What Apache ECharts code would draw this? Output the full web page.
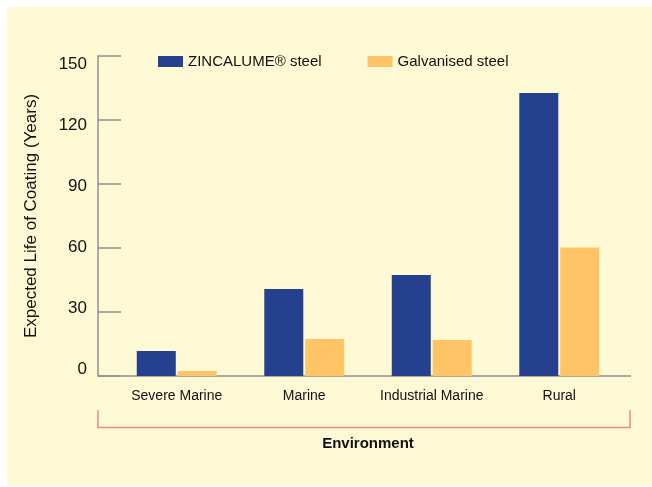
<!DOCTYPE html>
<html lang="en">
<head>
  <meta charset="UTF-8">
  <title>Expected Life of Coating</title>
  <style>
    * { box-sizing: border-box; padding: 0; margin: 0; }
    html, body, #main { width: 100%; height: 100%; background: #fff; }
  </style>
  <script src="https://cdn.jsdelivr.net/npm/echarts@6/dist/echarts.min.js"></script>
</head>
<body>
  <div id="main"></div>
  <script>
    // data
    var categories = ['Severe Marine', 'Marine', 'Industrial Marine', 'Rural'];
    var zincalume = [11.7, 40.8, 47.3, 132.7];
    var galvanised = [2.3, 17.3, 16.9, 60.2];
    var seriesNames = ['ZINCALUME® steel', 'Galvanised steel'];

    var font = '"Liberation Sans", Arial, sans-serif';
    var grey = '#8f8f8f';

    // in the source the tick labels sit a bit off their ticks:
    // top one hangs below, bottom one sits above the axis
    var labelRich = {};
    [0, 30, 60, 90, 120, 150].forEach(function (v) {
      var d = -7 + v * 0.1;
      labelRich['v' + v] = {
        fontFamily: font, fontSize: 17, color: '#111',
        padding: d >= 0 ? [2 * d, 0, 0, 0] : [0, 0, -2 * d, 0]
      };
    });

    var myChart = echarts.init(document.getElementById('main'));
    var option = {
      backgroundColor: '#fff',
      textStyle: { fontFamily: font, color: '#111' },
      graphic: [
        { type: 'rect', z: -10, shape: { x: 7, y: 7, width: 645, height: 479 }, style: { fill: '#fef9d5' } },
        // x axis base line runs past the bar area
        { type: 'line', shape: { x1: 98, y1: 376, x2: 631, y2: 376 }, style: { stroke: grey, lineWidth: 1.5 } },
        // bracket above "Environment"
        { type: 'polyline', shape: { points: [[98, 410], [98, 427.5], [630, 427.5], [630, 410]] }, style: { stroke: '#e58f7e', lineWidth: 1.5, fill: null } }
      ],
      legend: {
        left: 158, top: 54, padding: 0,
        icon: 'rect', itemWidth: 25, itemHeight: 11, itemGap: 46,
        textStyle: { fontFamily: font, fontSize: 15, color: '#111' },
        data: seriesNames
      },
      grid: { left: 113, right: 29, top: 56, bottom: 111 },
      xAxis: {
        type: 'category',
        data: categories,
        axisLine: { show: false },
        axisTick: { show: false },
        axisLabel: { fontFamily: font, fontSize: 14, color: '#111', margin: 13, interval: 0 },
        name: 'Environment',
        nameLocation: 'middle',
        nameGap: 60,
        nameTextStyle: { fontFamily: font, fontSize: 15, fontWeight: 'bold', color: '#111' }
      },
      yAxis: {
        type: 'value',
        min: 0, max: 150, interval: 30,
        offset: 15,
        axisLine: { show: true, lineStyle: { color: grey, width: 1.5 } },
        axisTick: { show: true, inside: true, length: 23, lineStyle: { color: grey, width: 1.5 } },
        splitLine: { show: false },
        axisLabel: {
          fontFamily: font, fontSize: 17, color: '#111', margin: 11,
          formatter: function (v) { return '{v' + v + '|' + v + '}'; },
          rich: labelRich
        },
        name: 'Expected Life of Coating (Years)',
        nameLocation: 'middle',
        nameGap: 58,
        nameTextStyle: { fontFamily: font, fontSize: 17, color: '#111' }
      },
      series: [
        { name: seriesNames[0], type: 'bar', data: zincalume, barWidth: 39, barGap: '5%', itemStyle: { color: '#24408e' } },
        { name: seriesNames[1], type: 'bar', data: galvanised, barWidth: 39, barGap: '5%', itemStyle: { color: '#fec466' } }
      ]
    };
    myChart.setOption(option);
    window.onresize = myChart.resize;
  </script>
</body>
</html>
